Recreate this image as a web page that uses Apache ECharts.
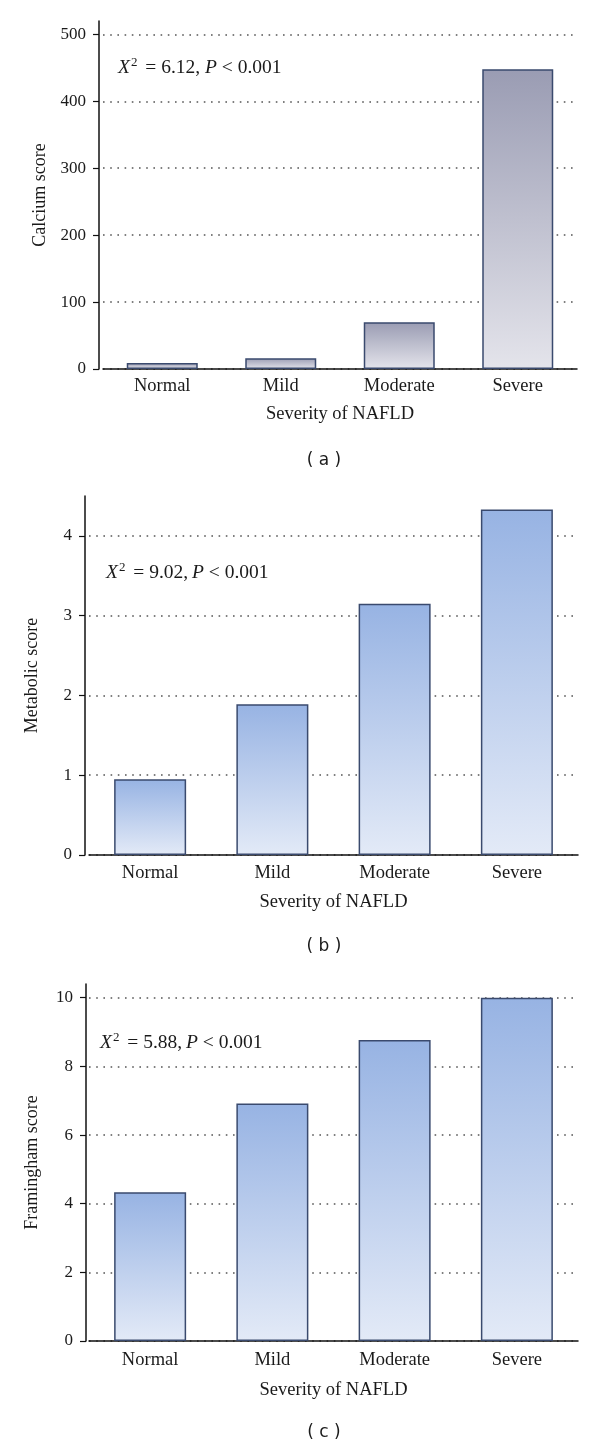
<!DOCTYPE html>
<html>
<head>
<meta charset="utf-8">
<script src="https://cdn.jsdelivr.net/npm/echarts@6/dist/echarts.min.js"></script>
<style>
html,body{margin:0;padding:0;background:#fff;}
#chart{width:600px;height:1450px;}
</style>
</head>
<body>
<div id="chart"></div>
<script>
const categories = ['Normal', 'Mild', 'Moderate', 'Severe'];
const calciumScores = [9, 16, 70, 448];
const metabolicScores = [0.95, 1.89, 3.15, 4.33];
const framinghamScores = [4.33, 6.92, 8.77, 10.0];
const calciumTicks = [0, 100, 200, 300, 400, 500];
const metabolicTicks = [0, 1, 2, 3, 4];
const framinghamTicks = [0, 2, 4, 6, 8, 10];
const yAxisNames = ['Calcium score', 'Metabolic score', 'Framingham score'];
const xAxisName = 'Severity of NAFLD';
const panelLetters = ['( a )', '( b )', '( c )'];
const statValues = ['6.12, ', '9.02,\u2009', '5.88,\u2009'];

const SERIF = '"Liberation Serif", "Times New Roman", serif';
const TXT = '#1a1a1a';

const panels = [
  {data: calciumScores, ticks: calciumTicks, max: 520, interval: 100,
   grid: {left: 103, top: 21, height: 348, right: 23}, yOffset: 4, nameGap: 50,
   labelMargin: 8, xNameGap: 36,
   barWidth: 71, top: '#9a9cb3', bottom: '#e4e4eb',
   stat: {x: 118, y: 67}, letter: {x: 324, y: 461}},
  {data: metabolicScores, ticks: metabolicTicks, max: 4.5, interval: 1,
   grid: {left: 89, top: 496, height: 359, right: 22}, yOffset: 4, nameGap: 44,
   labelMargin: 9, xNameGap: 38,
   barWidth: 72, top: '#97b3e3', bottom: '#e3eaf7',
   stat: {x: 106, y: 572}, letter: {x: 324, y: 947}},
  {data: framinghamScores, ticks: framinghamTicks, max: 10.4, interval: 2,
   grid: {left: 89, top: 984, height: 357, right: 22}, yOffset: 3, nameGap: 45,
   labelMargin: 10, xNameGap: 40,
   barWidth: 72, top: '#97b3e3', bottom: '#e3eaf7',
   stat: {x: 100, y: 1042}, letter: {x: 324, y: 1433}}
];

const grids = [], xAxes = [], yAxes = [], series = [], graphics = [];
panels.forEach((p, i) => {
  grids.push(Object.assign({containLabel: false}, p.grid));
  xAxes.push({
    type: 'category', gridIndex: i, data: categories,
    axisLine: {lineStyle: {color: '#111', width: 1.5}},
    axisTick: {show: false},
    axisLabel: {color: TXT, fontFamily: SERIF, fontSize: 18.5, margin: p.labelMargin},
    name: xAxisName, nameLocation: 'middle', nameGap: p.xNameGap,
    nameTextStyle: {color: TXT, fontFamily: SERIF, fontSize: 18.5}
  });
  yAxes.push({
    type: 'value', gridIndex: i, min: 0, max: p.max, interval: p.interval,
    offset: p.yOffset,
    axisLine: {show: true, lineStyle: {color: '#111', width: 1.5}},
    axisTick: {show: true, inside: false, length: 6, customValues: p.ticks,
               lineStyle: {color: '#111', width: 1.2}},
    axisLabel: {color: TXT, fontFamily: SERIF, fontSize: 17, margin: 13, customValues: p.ticks},
    splitLine: {show: true, lineStyle: {color: '#555', width: 1.6, type: [1.6, 5.6]}},
    name: yAxisNames[i], nameLocation: 'middle', nameGap: p.nameGap, nameRotate: 90,
    nameTextStyle: {color: TXT, fontFamily: SERIF, fontSize: 18}
  });
  series.push({
    type: 'bar', xAxisIndex: i, yAxisIndex: i, data: p.data,
    barWidth: p.barWidth,
    itemStyle: {
      color: new echarts.graphic.LinearGradient(0, 0, 0, 1, [
        {offset: 0, color: p.top}, {offset: 1, color: p.bottom}
      ]),
      borderColor: '#3a4a6e', borderWidth: 1.5
    },
    silent: true, animation: false
  });
  graphics.push({
    type: 'text', x: p.stat.x, y: p.stat.y, silent: true,
    style: {
      text: '{i|X}{s|2}{n| = ' + statValues[i] + '}{i|P}{n| < 0.001}',
      verticalAlign: 'middle',
      rich: {
        i: {fontFamily: SERIF, fontSize: 19.5, fontStyle: 'italic', fill: TXT, color: TXT, lineHeight: 22, verticalAlign: 'bottom'},
        n: {fontFamily: SERIF, fontSize: 19.5, fill: TXT, color: TXT, lineHeight: 22, verticalAlign: 'bottom'},
        s: {fontFamily: SERIF, fontSize: 13, fill: TXT, color: TXT, lineHeight: 15, verticalAlign: 'top', padding: [0, 3, 0, 1]}
      }
    }
  });
  graphics.push({
    type: 'text', x: p.letter.x, y: p.letter.y, silent: true,
    style: {text: panelLetters[i], font: '17px "DejaVu Sans", Verdana, sans-serif',
            fill: TXT, align: 'center', verticalAlign: 'middle'}
  });
});

const chart = echarts.init(document.getElementById('chart'), null, {renderer: 'canvas'});
chart.setOption({
  animation: false,
  backgroundColor: '#fff',
  grid: grids, xAxis: xAxes, yAxis: yAxes, series: series,
  graphic: graphics
});
</script>
</body>
</html>
